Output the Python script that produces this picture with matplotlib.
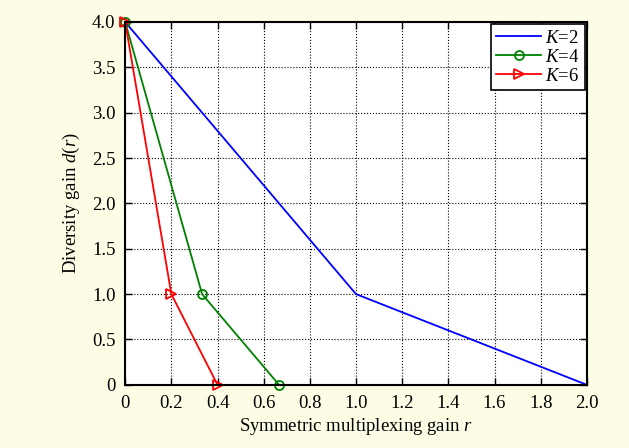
import matplotlib
matplotlib.use("Agg")
import matplotlib.pyplot as plt
import numpy as np

plt.rcParams["font.family"] = "Liberation Serif"
plt.rcParams["mathtext.fontset"] = "custom"
plt.rcParams["mathtext.rm"] = "Liberation Serif"
plt.rcParams["mathtext.it"] = "Liberation Serif:italic"

# data
r_k2 = [0, 1, 2]
d_k2 = [4, 1, 0]
r_k4 = [0, 1 / 3, 2 / 3]
d_k4 = [4, 1, 0]
r_k6 = [0, 0.2, 0.4]
d_k6 = [4, 1, 0]

xticks = np.arange(0, 2.01, 0.2)
xticklabels = ["0"] + ["%.1f" % v for v in xticks[1:]]
yticks = np.arange(0, 4.01, 0.5)
yticklabels = ["0"] + ["%.1f" % v for v in yticks[1:]]

bg = "#FDFDE6"
fig = plt.figure(figsize=(6.29, 4.48), dpi=100, facecolor=bg)
ax = fig.add_axes([0.199, 0.141, 0.734, 0.81])

ax.plot(r_k2, d_k2, color="blue", lw=1.3, label="$K$=2", clip_on=False)
ax.plot(r_k4, d_k4, color="green", lw=1.3, marker="o", ms=6.5, mfc="none",
        mew=1.3, label="$K$=4", clip_on=False)
ax.plot(r_k6, d_k6, color="red", lw=1.3, marker=">", ms=7.5, mfc="none",
        mew=1.3, label="$K$=6", clip_on=False)

ax.set_xlim(0, 2)
ax.set_ylim(0, 4)
ax.set_xticks(xticks)
ax.set_xticklabels(xticklabels)
ax.set_yticks(yticks)
ax.set_yticklabels(yticklabels)
ax.tick_params(direction="in", length=5, width=1, labelsize=13.5, top=True, right=True)
ax.tick_params(axis="x", pad=7)
ax.tick_params(axis="y", pad=7)
ax.grid(True, color="black", linestyle=":", linewidth=0.8)
for s in ax.spines.values():
    s.set_linewidth(1.5)

ax.set_xlabel("Symmetric multiplexing gain $r$", fontsize=13.5, labelpad=3)
ax.set_ylabel("Diversity gain $d$($r$)", fontsize=13.5, labelpad=7)

leg = ax.legend(loc="upper right", fontsize=13.5, fancybox=False, framealpha=1,
                edgecolor="black", borderpad=0.3, labelspacing=0.1,
                handlelength=2.4, handletextpad=0.2, borderaxespad=0.1)
leg.get_frame().set_linewidth(1.2)

fig.savefig("out.png", dpi=100, facecolor=bg)
